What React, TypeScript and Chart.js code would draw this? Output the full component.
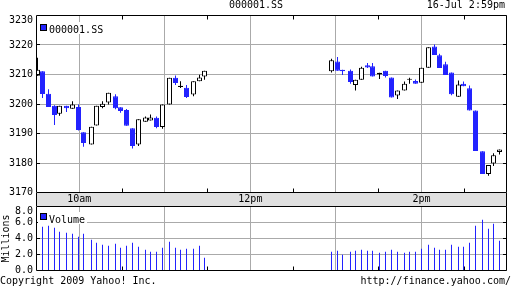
import React, { useEffect, useRef } from "react";
import { Chart, registerables } from "chart.js";

Chart.register(...registerables);

const symbolName = "000001.SS";
const volumeName = "Volume";
const volumeUnit = "Millions";
const dateStamp = "16-Jul 2:59pm";
const copyright = "Copyright 2009 Yahoo! Inc.";
const sourceUrl = "http://finance.yahoo.com/";

// minutes after the 9:30 open
const times = [
  0.7, 4.21, 8.42, 12.62, 16.13, 21.04, 25.25, 29.46, 32.96, 38.58,
  42.08, 46.29, 50.5, 55.41, 58.92, 63.12, 67.33, 71.54, 76.45, 79.96,
  84.17, 88.37, 93.28, 97.49, 101.0, 105.21, 110.12, 114.33, 117.83,
  206.91, 211.12, 214.62, 220.23, 223.74, 227.95, 232.16, 235.66, 240.57, 244.78,
  248.99, 253.2, 258.11, 261.62, 265.82, 270.03, 274.94, 279.15, 282.66, 286.87,
  291.07, 295.98, 299.49, 303.7, 307.91, 312.82, 317.02, 320.53, 324.74,
];
const opens = [
  3209.6, 3211.1, 3203.5, 3199.4, 3196.7, 3199.4, 3198.4, 3199.0, 3190.4, 3186.3,
  3192.7, 3199.0, 3200.5, 3202.6, 3198.9, 3198.0, 3191.8, 3186.3, 3194.0, 3194.4,
  3195.3, 3192.2, 3199.8, 3208.9, 3205.8, 3205.5, 3203.2, 3207.7, 3209.3,
  3211.1, 3214.4, 3211.6, 3211.3, 3206.4, 3208.2, 3213.1, 3212.8, 3210.0, 3211.3,
  3209.0, 3202.9, 3204.6, 3208.2, 3207.8, 3207.2, 3212.3, 3219.5, 3216.5, 3213.5,
  3210.7, 3202.5, 3206.9, 3205.3, 3197.8, 3184.0, 3176.3, 3179.8, 3183.7,
];
const highs = [
  3215.7, 3211.1, 3205.0, 3199.6, 3199.4, 3199.4, 3200.9, 3199.8, 3190.4, 3192.3,
  3199.4, 3200.9, 3203.8, 3203.3, 3198.9, 3198.3, 3191.8, 3194.8, 3195.8, 3196.4,
  3195.8, 3199.8, 3208.9, 3209.7, 3207.7, 3206.4, 3207.7, 3209.9, 3211.3,
  3215.3, 3215.9, 3211.6, 3211.7, 3208.2, 3212.6, 3213.9, 3213.9, 3210.6, 3211.3,
  3209.0, 3204.6, 3207.6, 3208.9, 3208.3, 3212.3, 3219.2, 3220.2, 3217.0, 3214.3,
  3210.7, 3208.0, 3207.6, 3206.3, 3197.8, 3184.0, 3179.3, 3183.3, 3184.6,
];
const lows = [
  3209.6, 3202.0, 3199.0, 3192.9, 3196.0, 3197.3, 3198.4, 3191.0, 3185.5, 3186.3,
  3192.7, 3198.6, 3199.8, 3198.2, 3197.0, 3192.6, 3184.9, 3185.8, 3194.0, 3194.4,
  3191.8, 3191.6, 3199.8, 3206.4, 3205.4, 3202.0, 3202.6, 3207.7, 3208.2,
  3210.7, 3211.3, 3209.8, 3206.9, 3204.6, 3208.2, 3212.2, 3209.3, 3208.5, 3209.0,
  3202.2, 3201.7, 3204.6, 3206.9, 3206.9, 3207.2, 3212.3, 3216.6, 3212.2, 3209.8,
  3203.0, 3202.5, 3206.0, 3197.8, 3184.1, 3176.3, 3175.7, 3179.0, 3182.9,
];
const closes = [
  3211.6, 3203.4, 3199.0, 3196.3, 3199.4, 3198.6, 3199.8, 3191.2, 3186.8, 3192.3,
  3199.4, 3200.1, 3203.8, 3198.6, 3197.6, 3192.6, 3185.8, 3194.8, 3195.4, 3195.4,
  3192.2, 3199.8, 3208.9, 3207.1, 3206.15, 3202.4, 3207.7, 3209.0, 3211.3,
  3214.8, 3211.3, 3211.1, 3207.5, 3208.2, 3212.3, 3212.4, 3209.3, 3210.6, 3209.5,
  3202.2, 3204.6, 3206.9, 3208.55, 3206.9, 3212.3, 3219.2, 3216.6, 3212.2, 3209.8,
  3203.3, 3206.6, 3206.0, 3197.8, 3184.1, 3176.3, 3179.3, 3182.6, 3184.6,
];
// millions of shares
const volumes = [
  0, 5.46, 5.58, 5.33, 4.83, 4.71, 4.58, 4.21, 4.58, 3.83,
  3.46, 3.21, 3.08, 3.33, 2.83, 3.08, 3.46, 2.96, 2.58, 2.33,
  2.33, 2.83, 3.58, 2.83, 2.58, 2.71, 2.71, 3.08, 1.58,
  2.33, 2.46, 1.96, 2.33, 2.46, 2.58, 2.46, 2.46, 2.21, 2.33,
  2.58, 2.33, 2.21, 2.33, 2.33, 2.71, 3.21, 2.83, 2.58, 2.58,
  3.21, 2.96, 2.96, 3.46, 5.58, 6.33, 5.21, 5.83, 3.71,
];

const priceTicks = [3170, 3180, 3190, 3200, 3210, 3220, 3230];
const volumeTicks = [0, 2, 4, 6, 8];
const sessionMinutes = [0, 330];
const timeGrid = [0, 30, 60, 90, 120, 150, 180, 210, 240, 270, 300, 330];
const timeTickValues = [30, 150, 270];
const timeTickLabels = ["10am", "12pm", "2pm"];
const hourMarks = [30, 90, 150, 210, 270];
const halfHourMarks = [60, 120, 180, 240, 300];

const FONT = '"DejaVu Sans Mono", "Liberation Mono", monospace';
const BLUE = "#2222ff";
const GRID = "#aaaaaa";
const BAND = "#e0e0e0";

const al = (p: number) => Math.round(p - 0.5) + 0.5;
const setTicks = (values: number[]) => (s: any) => {
  s.ticks = values.map((value) => ({ value }));
};

function frameAndTicks(chart: any, yValues: number[], topTicks: boolean) {
  const { ctx, chartArea: a, scales } = chart;
  const L = 36.5;
  const R = 506.5;
  const T = al(a.top);
  const B = al(a.bottom);
  ctx.save();
  ctx.strokeStyle = "#000";
  ctx.lineWidth = 1;
  ctx.beginPath();
  ctx.moveTo(L, T);
  ctx.lineTo(R, T);
  ctx.lineTo(R, B);
  ctx.lineTo(L, B);
  ctx.closePath();
  for (const v of yValues) {
    const y = al(scales.y.getPixelForValue(v));
    ctx.moveTo(L, y);
    ctx.lineTo(L + 3.5, y);
    ctx.moveTo(R - 3.5, y);
    ctx.lineTo(R, y);
  }
  for (const m of halfHourMarks) {
    const x = al(scales.x.getPixelForValue(m));
    if (topTicks) {
      ctx.moveTo(x, T);
      ctx.lineTo(x, T + 4);
    }
    ctx.moveTo(x, B - 4);
    ctx.lineTo(x, B);
  }
  ctx.stroke();
  ctx.restore();
}

const xGridColor = (c: any) =>
  c.tick && hourMarks.includes(c.tick.value) ? GRID : "rgba(0,0,0,0)";

export default function App() {
  const mainRef = useRef<HTMLCanvasElement>(null);
  const volRef = useRef<HTMLCanvasElement>(null);

  useEffect(() => {
    const up = closes.map((c, i) => c >= opens[i]);
    const bodies = times.map((t, i) => ({
      x: t,
      y: [Math.min(opens[i], closes[i]), Math.max(opens[i], closes[i])],
    }));
    const wicks = times.map((t, i) => ({ x: t, y: [lows[i], highs[i]] }));
    const vols = times.map((t, i) => ({ x: t, y: volumes[i] }));

    const mainPlugin = {
      id: "mainFrame",
      beforeDraw(chart: any) {
        const { ctx, chartArea: a } = chart;
        ctx.save();
        ctx.fillStyle = BAND;
        const top = Math.round(a.bottom);
        ctx.fillRect(36, top, 471, chart.height - top);
        ctx.strokeStyle = "#000";
        ctx.lineWidth = 1;
        ctx.beginPath();
        ctx.moveTo(36.5, top);
        ctx.lineTo(36.5, chart.height);
        ctx.moveTo(506.5, top);
        ctx.lineTo(506.5, chart.height);
        ctx.stroke();
        ctx.restore();
      },
      afterDraw(chart: any) {
        frameAndTicks(chart, priceTicks.slice(1, -1), true);
      },
    };
    const volPlugin = {
      id: "volFrame",
      afterDraw(chart: any) {
        frameAndTicks(chart, volumeTicks.slice(1, -1), false);
      },
    };

    const tickFont = { family: FONT, size: 10, lineHeight: 1 };

    const main = new Chart(mainRef.current!, {
      type: "bar",
      data: {
        datasets: [
          {
            data: wicks as any,
            barThickness: 1,
            backgroundColor: up.map((u) => (u ? "#000" : BLUE)),
            borderWidth: 0,
            inflateAmount: 0,
            grouped: false,
            order: 2,
          } as any,
          {
            data: bodies as any,
            barThickness: 5,
            backgroundColor: up.map((u) => (u ? "#fff" : BLUE)),
            borderColor: up.map((u) => (u ? "#000" : BLUE)),
            borderWidth: 1,
            borderSkipped: false,
            inflateAmount: 0,
            grouped: false,
            order: 1,
          } as any,
        ],
      },
      options: {
        responsive: false,
        animation: false,
        devicePixelRatio: 1,
        events: [],
        layout: { autoPadding: false, padding: { top: 15.5, right: 5, left: 0, bottom: 0 } } as any,
        plugins: { legend: { display: false }, tooltip: { enabled: false } },
        scales: {
          x: {
            type: "linear",
            min: sessionMinutes[0],
            max: sessionMinutes[1],
            offset: false,
            afterBuildTicks: setTicks(timeGrid),
            grid: { offset: false, color: xGridColor, drawTicks: false, lineWidth: 1 },
            border: { display: false },
            ticks: {
              autoSkip: false,
              maxRotation: 0,
              padding: 1,
              color: "#000",
              font: { family: FONT, size: 10, lineHeight: 1.1 },
              callback: (v: any) => {
                const i = timeTickValues.indexOf(Number(v));
                return i >= 0 ? timeTickLabels[i] : "";
              },
            },
            afterFit: (s: any) => {
              s.height = 13.5;
            },
          },
          y: {
            min: priceTicks[0],
            max: priceTicks[priceTicks.length - 1],
            afterBuildTicks: setTicks(priceTicks),
            grid: { color: GRID, drawTicks: false },
            border: { display: false },
            ticks: {
              autoSkip: false,
              padding: 3.5,
              color: "#000",
              font: tickFont,
              callback: (v: any) =>
                Number(v) === priceTicks[priceTicks.length - 1] ? ["", String(v)] : String(v),
            },
            afterFit: (s: any) => {
              s.width = 36.5;
            },
          },
        },
      } as any,
      plugins: [mainPlugin],
    });

    const vol = new Chart(volRef.current!, {
      type: "bar",
      data: {
        datasets: [
          {
            data: vols as any,
            barThickness: 1,
            backgroundColor: BLUE,
            borderWidth: 0,
            inflateAmount: 0,
          } as any,
        ],
      },
      options: {
        responsive: false,
        animation: false,
        devicePixelRatio: 1,
        events: [],
        layout: { autoPadding: false, padding: { top: 14.5, right: 5, left: 0, bottom: 0 } } as any,
        plugins: { legend: { display: false }, tooltip: { enabled: false } },
        scales: {
          x: {
            type: "linear",
            min: sessionMinutes[0],
            max: sessionMinutes[1],
            offset: false,
            afterBuildTicks: setTicks(timeGrid),
            grid: { offset: false, color: xGridColor, drawTicks: false },
            border: { display: false },
            ticks: { display: false, autoSkip: false },
            afterFit: (s: any) => {
              s.height = 17.5;
            },
          },
          y: {
            min: volumeTicks[0],
            max: volumeTicks[volumeTicks.length - 1],
            afterBuildTicks: setTicks(volumeTicks),
            grid: { color: GRID, drawTicks: false },
            border: { display: false },
            title: {
              display: true,
              text: volumeUnit,
              color: "#000",
              font: { family: FONT, size: 10, lineHeight: 1.2 },
              padding: { top: 0.5, bottom: 0 },
            },
            ticks: {
              autoSkip: false,
              padding: 3.5,
              color: "#000",
              font: tickFont,
              callback: (v: any) =>
                Number(v) === volumeTicks[volumeTicks.length - 1]
                  ? ["", Number(v).toFixed(1)]
                  : Number(v).toFixed(1),
            },
            afterFit: (s: any) => {
              s.width = 36.5;
            },
          },
        },
      } as any,
      plugins: [volPlugin],
    });

    return () => {
      main.destroy();
      vol.destroy();
    };
  }, []);

  const text: React.CSSProperties = {
    position: "absolute",
    whiteSpace: "pre",
    fontFamily: FONT,
    fontSize: 10,
    lineHeight: "10px",
    color: "#000",
  };
  const legendBox: React.CSSProperties = {
    position: "absolute",
    width: 7,
    height: 7,
    boxSizing: "border-box",
    background: BLUE,
    border: "1px solid #000",
  };

  return (
    <div
      style={{
        position: "absolute",
        left: 0,
        top: 0,
        width: 512,
        height: 288,
        background: "#fff",
        overflow: "hidden",
      }}
    >
      <canvas ref={mainRef} width={512} height={206} style={{ position: "absolute", left: 0, top: 0 }} />
      <canvas ref={volRef} width={512} height={96} style={{ position: "absolute", left: 0, top: 192 }} />
      <div style={{ ...text, top: 0, left: 0, width: 512, textAlign: "center" }}>{symbolName}</div>
      <div style={{ ...text, top: 0, right: 7 }}>{dateStamp}</div>

      <div style={{ position: "absolute", left: 38, top: 22, width: 68, height: 12, background: "#fff" }} />
      <div style={{ ...legendBox, left: 40, top: 24 }} />
      <div style={{ ...text, left: 49, top: 24.5 }}>{symbolName}</div>

      <div style={{ position: "absolute", left: 38, top: 212, width: 49, height: 12, background: "#fff" }} />
      <div style={{ ...legendBox, left: 40, top: 213 }} />
      <div style={{ ...text, left: 49, top: 214.5 }}>{volumeName}</div>

      <div style={{ ...text, top: 276, left: 0 }}>{copyright}</div>
      <div style={{ ...text, top: 276, right: 1 }}>{sourceUrl}</div>
    </div>
  );
}
